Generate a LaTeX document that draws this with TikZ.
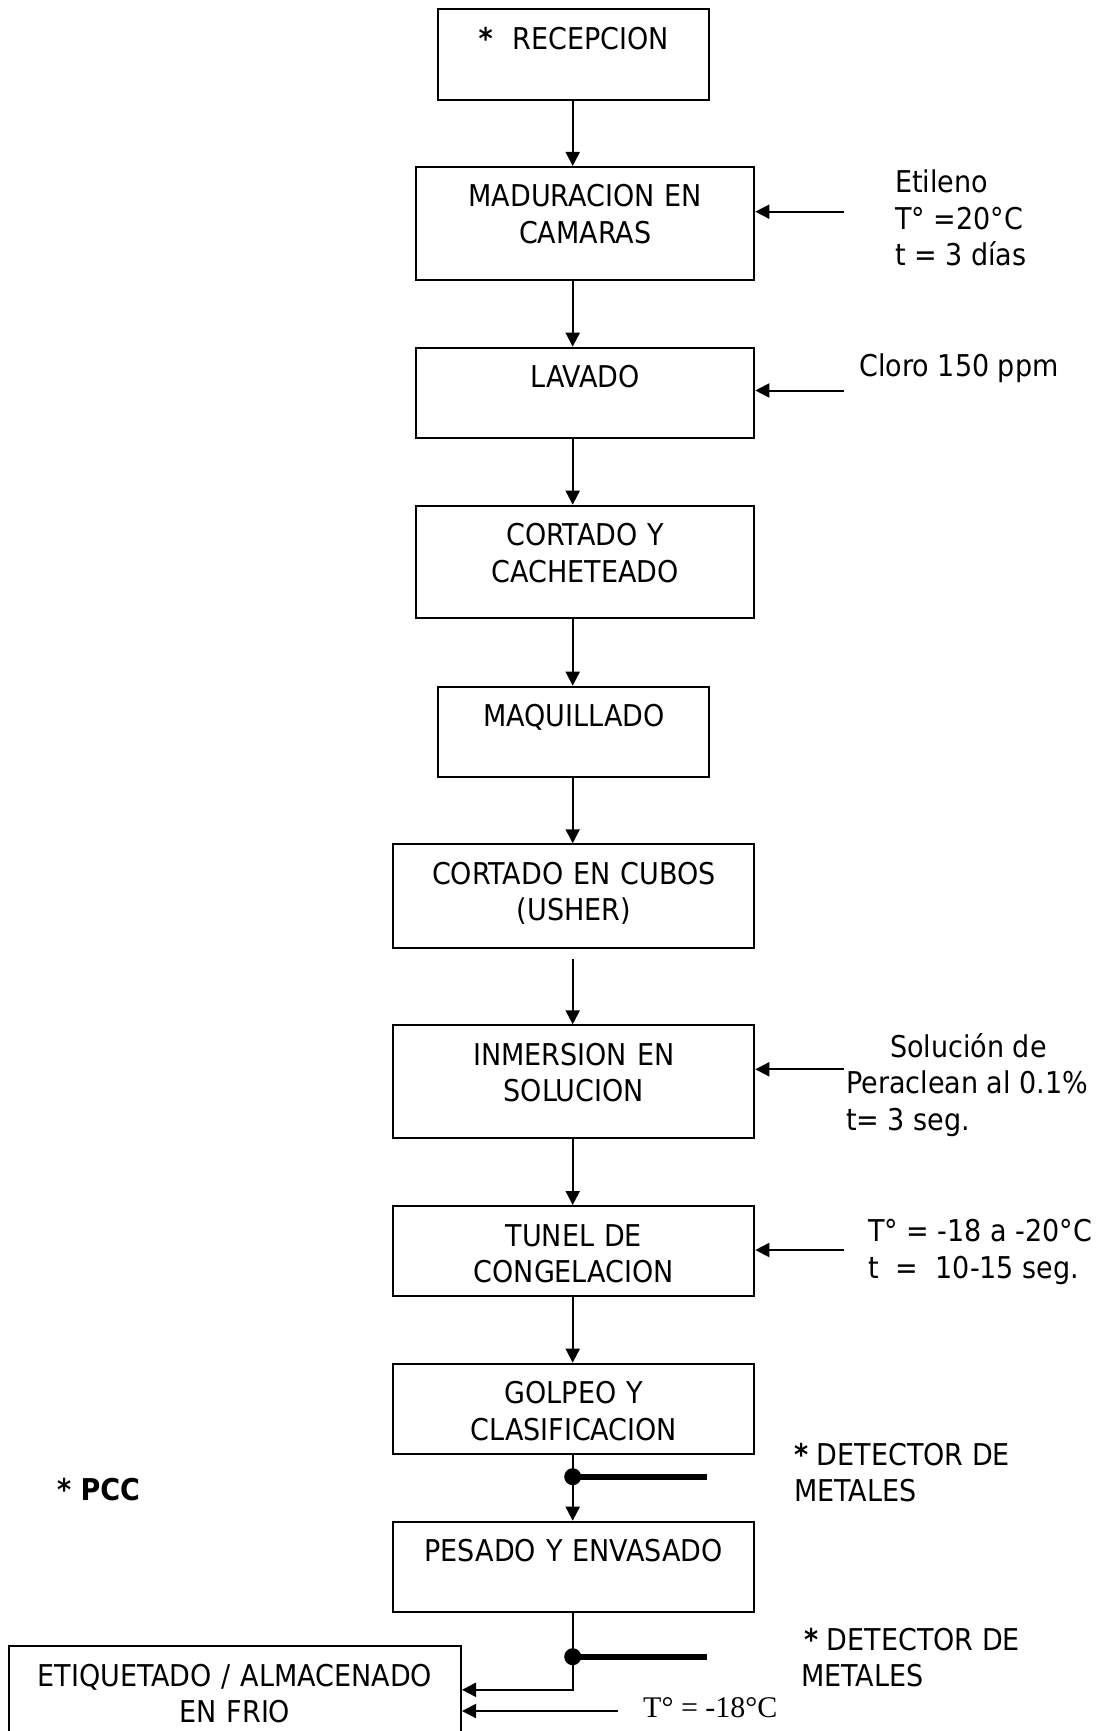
\documentclass[tikz,border=0pt]{standalone}
\usepackage{fontspec}
\setmainfont{DejaVu Sans Condensed}
\newfontfamily\tnrfont{Liberation Serif}
\usetikzlibrary{arrows.meta}

\tikzset{
  proc/.style={draw, line width=2pt, inner sep=0pt, anchor=north west,
    align=center, text height=40pt},
  flow/.style={line width=2pt, -{Triangle[length=14pt,width=14pt]}},
  note/.style={inner sep=0pt, anchor=base west, align=left},
  detector/.style={line width=6pt},
}

\begin{document}
\begin{tikzpicture}[x=1pt,y=-1pt,every node/.style={font=\fontsize{30}{36.5}\selectfont}]
    \useasboundingbox (0,0) rectangle (1099,1731);
    \clip (0,0) rectangle (1099,1731);
    % process boxes
    \node[proc, text width=271pt, text depth=50.4pt] (rec) at (437.3,8.3) {\textbf{*}~~RECEPCION};
    \node[proc, text width=338.3pt, text depth=72.7pt] (mad) at (415,166) {MADURACION EN\\CAMARAS};
    \node[proc, text width=338.3pt, text depth=50.6pt] (lav) at (415,346.7) {LAVADO};
    \node[proc, text width=338.3pt, text depth=72.6pt] (cor) at (415,504.7) {CORTADO Y\\CACHETEADO};
    \node[proc, text width=271pt, text depth=50.3pt] (maq) at (437.3,685.7) {MAQUILLADO};
    \node[proc, text width=361pt, text depth=64pt] (cub) at (392.3,843.3) {CORTADO EN CUBOS\\(USHER)};
    \node[proc, text width=361pt, text depth=72.7pt] (inm) at (392.3,1024.3) {INMERSION EN\\SOLUCION};
    \node[proc, text width=361pt, text depth=50.3pt] (tun) at (392.3,1205) {TUNEL DE\\CONGELACION};
    \node[proc, text width=361pt, text depth=50.6pt] (gol) at (392.3,1362.7) {GOLPEO Y\\CLASIFICACION};
    \node[proc, text width=361pt, text depth=50.3pt] (pes) at (392.3,1520.7) {PESADO Y ENVASADO};
    \node[proc, text width=452.3pt, text depth=80pt] (eti) at (7.7,1645) {ETIQUETADO / ALMACENADO\\EN FRIO};

    % main line
    \coordinate (spine) at (572.7,0);
    \draw[flow] (spine |- rec.south) -- (spine |- mad.north);
    \draw[flow] (spine |- mad.south) -- (spine |- lav.north);
    \draw[flow] (spine |- lav.south) -- (spine |- cor.north);
    \draw[flow] (spine |- cor.south) -- (spine |- maq.north);
    \draw[flow] (spine |- maq.south) -- (spine |- cub.north);
    \draw[flow, shorten <=10pt] (spine |- cub.south) -- (spine |- inm.north);
    \draw[flow] (spine |- inm.south) -- (spine |- tun.north);
    \draw[flow] (spine |- tun.south) -- (spine |- gol.north);
    \draw[flow] (spine |- gol.south) -- (spine |- pes.north);
    \coordinate (bend) at (572.7,1689.8);
    \draw[flow] (spine |- pes.south) -- (bend) -- (bend -| eti.east);

    % inputs from the right
    \coordinate (madIn) at (844.3,211.7);
    \coordinate (lavIn) at (844.3,390.5);
    \coordinate (inmIn) at (844.3,1069.3);
    \coordinate (tunIn) at (844.3,1250);
    \coordinate (etiIn) at (618,1711);
    \draw[flow] (madIn) -- (madIn -| mad.east);
    \draw[flow] (lavIn) -- (lavIn -| lav.east);
    \draw[flow] (inmIn) -- (inmIn -| inm.east);
    \draw[flow] (tunIn) -- (tunIn -| tun.east);
    \draw[flow] (etiIn) -- (etiIn -| eti.east);
    \node[note] (madNote) at (895,265.7) {Etileno\\T° =20°C\\t = 3 días};
    \node[note] (lavNote) at (859.3,376.7) {Cloro 150 ppm};
    \node[note] (inmNote) at (846,1130) {\hspace*{44pt}Solución de\\Peraclean al 0.1\%\\t= 3 seg.};
    \node[note] (tunNote) at (868,1278.3) {T° = -18 a -20°C\\t~~=~~10-15 seg.};
    \node[note, font=\tnrfont\fontsize{30}{36}\selectfont] (etiNote) at (643,1717) {T° = -18°C};

    % metal detectors
    \coordinate (det1) at (572.7,1476.7);
    \coordinate (det1end) at (707,1476.7);
    \coordinate (det2) at (572.7,1656.7);
    \coordinate (det2end) at (707,1656.7);
    \draw[detector] (det1) -- (det1end);
    \draw[detector] (det2) -- (det2end);
    \fill (det1) circle[radius=8.5];
    \fill (det2) circle[radius=8.5];
    \node[note] (det1Note) at (794,1501.7) {\textbf{*} DETECTOR DE\\METALES};
    \node[note] (det2Note) at (801,1686.7) {\hspace*{3pt}\textbf{*} DETECTOR DE\\METALES};
    \node[note, font=\fontsize{30}{36.5}\selectfont\bfseries] (pcc) at (57,1500) {* PCC};
\end{tikzpicture}
\end{document}
